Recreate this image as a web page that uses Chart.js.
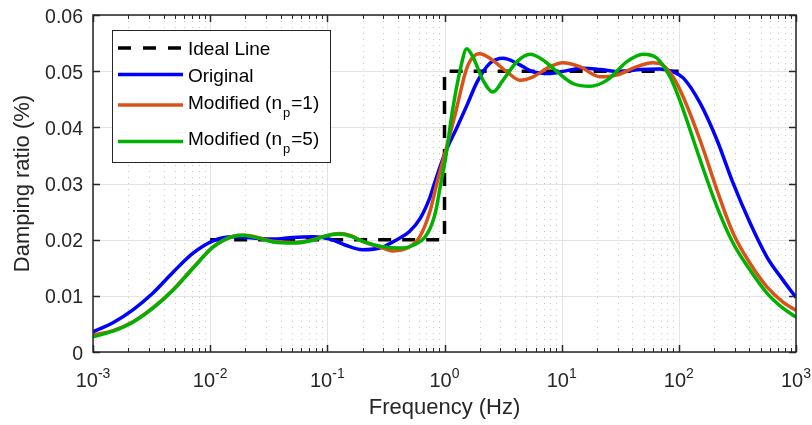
<!DOCTYPE html>
<html>
<head>
<meta charset="utf-8">
<script src="https://cdn.jsdelivr.net/npm/chart.js@4"></script>
<style>
  html, body { margin: 0; padding: 0; background: #fff; }
  #wrap { width: 812px; height: 425px; }
</style>
</head>
<body>
<div id="wrap"><canvas id="damping-chart"></canvas></div>
<script>
// values
const freqIdeal = [0.01, 1, 1, 100];
const valIdeal = [0.02, 0.02, 0.05, 0.05];

const freqOriginal = [0.001, 0.00148, 0.00219, 0.00325, 0.00482, 0.00714, 0.0106, 0.0157, 0.0232, 0.0344, 0.0509, 0.0755,
  0.105, 0.14, 0.2, 0.29, 0.393, 0.5, 0.62, 0.75, 0.82, 1.01, 1.28, 1.56, 1.89, 2.44, 3.16, 4.16, 5.69, 7.95,
  11.1, 15.2, 21.2, 31.5, 46.6, 69, 89, 109, 152, 212, 290, 405, 565, 774, 1000];
const valOriginal = [0.0036, 0.0052, 0.0075, 0.0105, 0.0142, 0.0176, 0.0198, 0.0205, 0.0203, 0.0201, 0.0204, 0.0205,
  0.0201, 0.0191, 0.0182, 0.0186, 0.0200, 0.0214, 0.0238, 0.0275, 0.0300, 0.0354, 0.0400, 0.0440, 0.0480, 0.0514, 0.0523, 0.0514, 0.0499, 0.0496,
  0.0501, 0.0505, 0.0503, 0.0499, 0.0503, 0.0504, 0.0499, 0.0488, 0.0443, 0.0377, 0.0301, 0.0230, 0.0169, 0.0128, 0.0097];

const freqMod1 = [0.001, 0.00148, 0.00219, 0.00325, 0.00482, 0.00714, 0.0106, 0.0157, 0.0195, 0.0232, 0.0344, 0.0509, 0.0755,
  0.095, 0.125, 0.16, 0.2, 0.29, 0.363, 0.48, 0.618, 0.751, 0.86, 1.01, 1.24, 1.52, 1.7, 2.0, 2.44, 3.4, 4.4, 5.7, 7.95,
  10.2, 14.3, 21.2, 29.4, 43.7, 59.7, 72.6, 89, 109, 152, 212, 290, 405, 565, 774, 1000];
const valMod1 = [0.0030, 0.0038, 0.0054, 0.0079, 0.0111, 0.0150, 0.0187, 0.0206, 0.0208, 0.0206, 0.0197, 0.0195, 0.0200,
  0.0206, 0.0211, 0.0207, 0.0197, 0.0186, 0.0180, 0.0185, 0.0206, 0.0250, 0.0300, 0.0354, 0.0425, 0.0500, 0.0522, 0.0531, 0.0523, 0.0499, 0.0484, 0.0490, 0.0508,
  0.0515, 0.0508, 0.0490, 0.0493, 0.0508, 0.0515, 0.0511, 0.0490, 0.0454, 0.0377, 0.0288, 0.0212, 0.0158, 0.0116, 0.0089, 0.0074];

const freqMod5 = [0.001, 0.00148, 0.00219, 0.00325, 0.00482, 0.00714, 0.0106, 0.0157, 0.019, 0.0232, 0.0344, 0.0509, 0.0755,
  0.095, 0.125, 0.16, 0.2, 0.29, 0.418, 0.54, 0.72, 0.84, 0.92, 1.03, 1.16, 1.36, 1.55, 1.75, 2.13, 2.59, 3.16, 4.16, 5.37, 6.93, 9.12,
  12.5, 17.5, 24.4, 36.1, 49.4, 65.1, 84, 102, 152, 212, 290, 405, 565, 774, 1000];
const valMod5 = [0.0027, 0.0037, 0.0053, 0.0078, 0.0110, 0.0149, 0.0187, 0.0206, 0.0208, 0.0205, 0.0196, 0.0194, 0.0199,
  0.0206, 0.0210, 0.0206, 0.0197, 0.0188, 0.0185, 0.0190, 0.0212, 0.0250, 0.0295, 0.0350, 0.0425, 0.0502, 0.0540, 0.0525, 0.0484, 0.0463, 0.0484, 0.0517, 0.0530, 0.0520, 0.0499,
  0.0478, 0.0473, 0.0484, 0.0517, 0.0530, 0.0523, 0.0490, 0.0448, 0.0342, 0.0258, 0.0194, 0.0146, 0.0105, 0.0078, 0.0062];

// axis ticks
const xDecades = [-3, -2, -1, 0, 1, 2, 3];
const yTicks = [0, 0.01, 0.02, 0.03, 0.04, 0.05, 0.06];
const yTickLabels = ['0', '0.01', '0.02', '0.03', '0.04', '0.05', '0.06'];

const FONT = '"Liberation Sans", Arial, sans-serif';
const AXIS = '#262626';

const xMajor = xDecades.map(e => Math.pow(10, e));
const xMinor = [];
xMajor.slice(0, -1).forEach(d => { for (let k = 2; k <= 9; k++) xMinor.push(k * d); });

function pts(xs, ys) {
  return xs.map((f, i) => ({ x: f, y: ys[i] }));
}

function seg(ctx, x1, y1, x2, y2) {
  ctx.beginPath();
  ctx.moveTo(x1, y1);
  ctx.lineTo(x2, y2);
  ctx.stroke();
}

const legendRows = [
  { text: 'Ideal Line', color: '#000000', dash: [13, 12], lineY: 48, base: 55 },
  { text: 'Original', color: '#0000ff', dash: [], lineY: 74.5, base: 81.5 },
  { text: 'Modified (n', sub: 'p', tail: '=1)', color: '#d95319', dash: [], lineY: 105, base: 108.5 },
  { text: 'Modified (n', sub: 'p', tail: '=5)', color: '#00b200', dash: [], lineY: 141.5, base: 145 }
];

const frame = {
  id: 'frame',
  beforeDatasetsDraw(chart) {
    const { ctx, chartArea: a, scales: { x, y } } = chart;
    ctx.save();
    ctx.lineWidth = 1;
    // minor grid (dotted)
    ctx.strokeStyle = '#c8c8c8';
    ctx.setLineDash([1, 5]);
    xMinor.forEach(v => {
      const px = Math.round(x.getPixelForValue(v)) + 0.5;
      seg(ctx, px, a.top, px, a.bottom);
    });
    ctx.setLineDash([]);
    // major grid
    ctx.strokeStyle = '#e3e3e3';
    xMajor.forEach(v => {
      const px = Math.round(x.getPixelForValue(v)) + 0.5;
      seg(ctx, px, a.top, px, a.bottom);
    });
    yTicks.forEach(v => {
      const py = Math.round(y.getPixelForValue(v)) + 0.5;
      seg(ctx, a.left, py, a.right, py);
    });
    ctx.restore();
  },
  afterDraw(chart) {
    const { ctx, chartArea: a, scales: { x, y } } = chart;
    ctx.save();
    ctx.strokeStyle = AXIS;
    ctx.fillStyle = AXIS;

    // ticks, pointing inward, on all four sides
    ctx.lineWidth = 1;
    xMinor.forEach(v => {
      const px = Math.round(x.getPixelForValue(v)) + 0.5;
      seg(ctx, px, a.bottom, px, a.bottom - 4);
      seg(ctx, px, a.top, px, a.top + 4);
    });
    ctx.lineWidth = 1.5;
    xMajor.forEach(v => {
      const px = Math.round(x.getPixelForValue(v)) + 0.5;
      seg(ctx, px, a.bottom, px, a.bottom - 7);
      seg(ctx, px, a.top, px, a.top + 7);
    });
    yTicks.forEach(v => {
      const py = Math.round(y.getPixelForValue(v)) + 0.5;
      seg(ctx, a.left, py, a.left + 7, py);
      seg(ctx, a.right, py, a.right - 7, py);
    });

    // box
    ctx.lineWidth = 1.5;
    ctx.strokeRect(a.left, a.top, a.right - a.left, a.bottom - a.top);

    // y tick labels
    ctx.font = '19.5px ' + FONT;
    ctx.textAlign = 'right';
    ctx.textBaseline = 'alphabetic';
    yTicks.forEach((v, i) => {
      ctx.fillText(yTickLabels[i], a.left - 10, y.getPixelForValue(v) + 7.5);
    });

    // x tick labels: 10 with superscript exponent
    ctx.textAlign = 'left';
    xDecades.forEach(e => {
      const px = x.getPixelForValue(Math.pow(10, e));
      const exp = String(e);
      ctx.font = '20px ' + FONT;
      const wb = ctx.measureText('10').width;
      ctx.font = '14px ' + FONT;
      const we = ctx.measureText(exp).width;
      const x0 = px - (wb + we) / 2;
      ctx.font = '20px ' + FONT;
      ctx.fillText('10', x0, 387);
      ctx.font = '14px ' + FONT;
      ctx.fillText(exp, x0 + wb, 378);
    });

    // axis titles
    ctx.font = '22px ' + FONT;
    ctx.textAlign = 'center';
    ctx.fillText('Frequency (Hz)', (a.left + a.right) / 2, 414);
    ctx.save();
    ctx.translate(29, (a.top + a.bottom) / 2);
    ctx.rotate(-Math.PI / 2);
    ctx.fillText('Damping ratio (%)', 0, 0);
    ctx.restore();

    // legend
    ctx.fillStyle = '#ffffff';
    ctx.fillRect(112, 30, 218, 132);
    ctx.lineWidth = 1;
    ctx.strokeStyle = AXIS;
    ctx.strokeRect(112.5, 30.5, 218, 132);
    legendRows.forEach(r => {
      ctx.strokeStyle = r.color;
      ctx.lineWidth = 3.5;
      ctx.setLineDash(r.dash);
      seg(ctx, 118, r.lineY, 183, r.lineY);
      ctx.setLineDash([]);
      ctx.fillStyle = '#000000';
      ctx.textAlign = 'left';
      ctx.font = '19px ' + FONT;
      ctx.fillText(r.text, 188, r.base);
      if (r.sub) {
        let cx = 188 + ctx.measureText(r.text).width;
        ctx.font = '13px ' + FONT;
        ctx.fillText(r.sub, cx + 1, r.base + 8);
        cx += ctx.measureText(r.sub).width + 2;
        ctx.font = '19px ' + FONT;
        ctx.fillText(r.tail, cx, r.base);
      }
    });
    ctx.restore();
  }
};

const ctx = document.getElementById('damping-chart').getContext('2d');
const dampingChart = new Chart(ctx, {
  type: 'line',
  data: {
    datasets: [
      {
        label: 'Ideal Line',
        data: pts(freqIdeal, valIdeal),
        borderColor: '#000000',
        borderWidth: 3.5,
        borderDash: [13, 11],
        tension: 0,
        order: 4
      },
      {
        label: 'Original',
        data: pts(freqOriginal, valOriginal),
        borderColor: '#0000ff',
        borderWidth: 3.5,
        cubicInterpolationMode: 'monotone',
        order: 3
      },
      {
        label: 'Modified (np=1)',
        data: pts(freqMod1, valMod1),
        borderColor: '#d95319',
        borderWidth: 3.5,
        cubicInterpolationMode: 'monotone',
        order: 2
      },
      {
        label: 'Modified (np=5)',
        data: pts(freqMod5, valMod5),
        borderColor: '#00b200',
        borderWidth: 3.5,
        cubicInterpolationMode: 'monotone',
        order: 1
      }
    ]
  },
  options: {
    responsive: true,
    maintainAspectRatio: false,
    animation: false,
    devicePixelRatio: 1,
    layout: { padding: { top: 15, right: 16, left: 0, bottom: 0 } },
    elements: {
      point: { radius: 0, hoverRadius: 0 },
      line: { fill: false, borderJoinStyle: 'round' }
    },
    scales: {
      x: {
        type: 'logarithmic',
        min: 1e-3,
        max: 1e3,
        grid: { display: false },
        border: { display: false },
        ticks: { display: false },
        afterFit(scale) { scale.height = 73; }
      },
      y: {
        min: 0,
        max: 0.06,
        grid: { display: false },
        border: { display: false },
        ticks: { display: false },
        afterFit(scale) { scale.width = 93; }
      }
    },
    plugins: {
      legend: { display: false },
      tooltip: { enabled: false }
    }
  },
  plugins: [frame]
});
</script>
</body>
</html>
